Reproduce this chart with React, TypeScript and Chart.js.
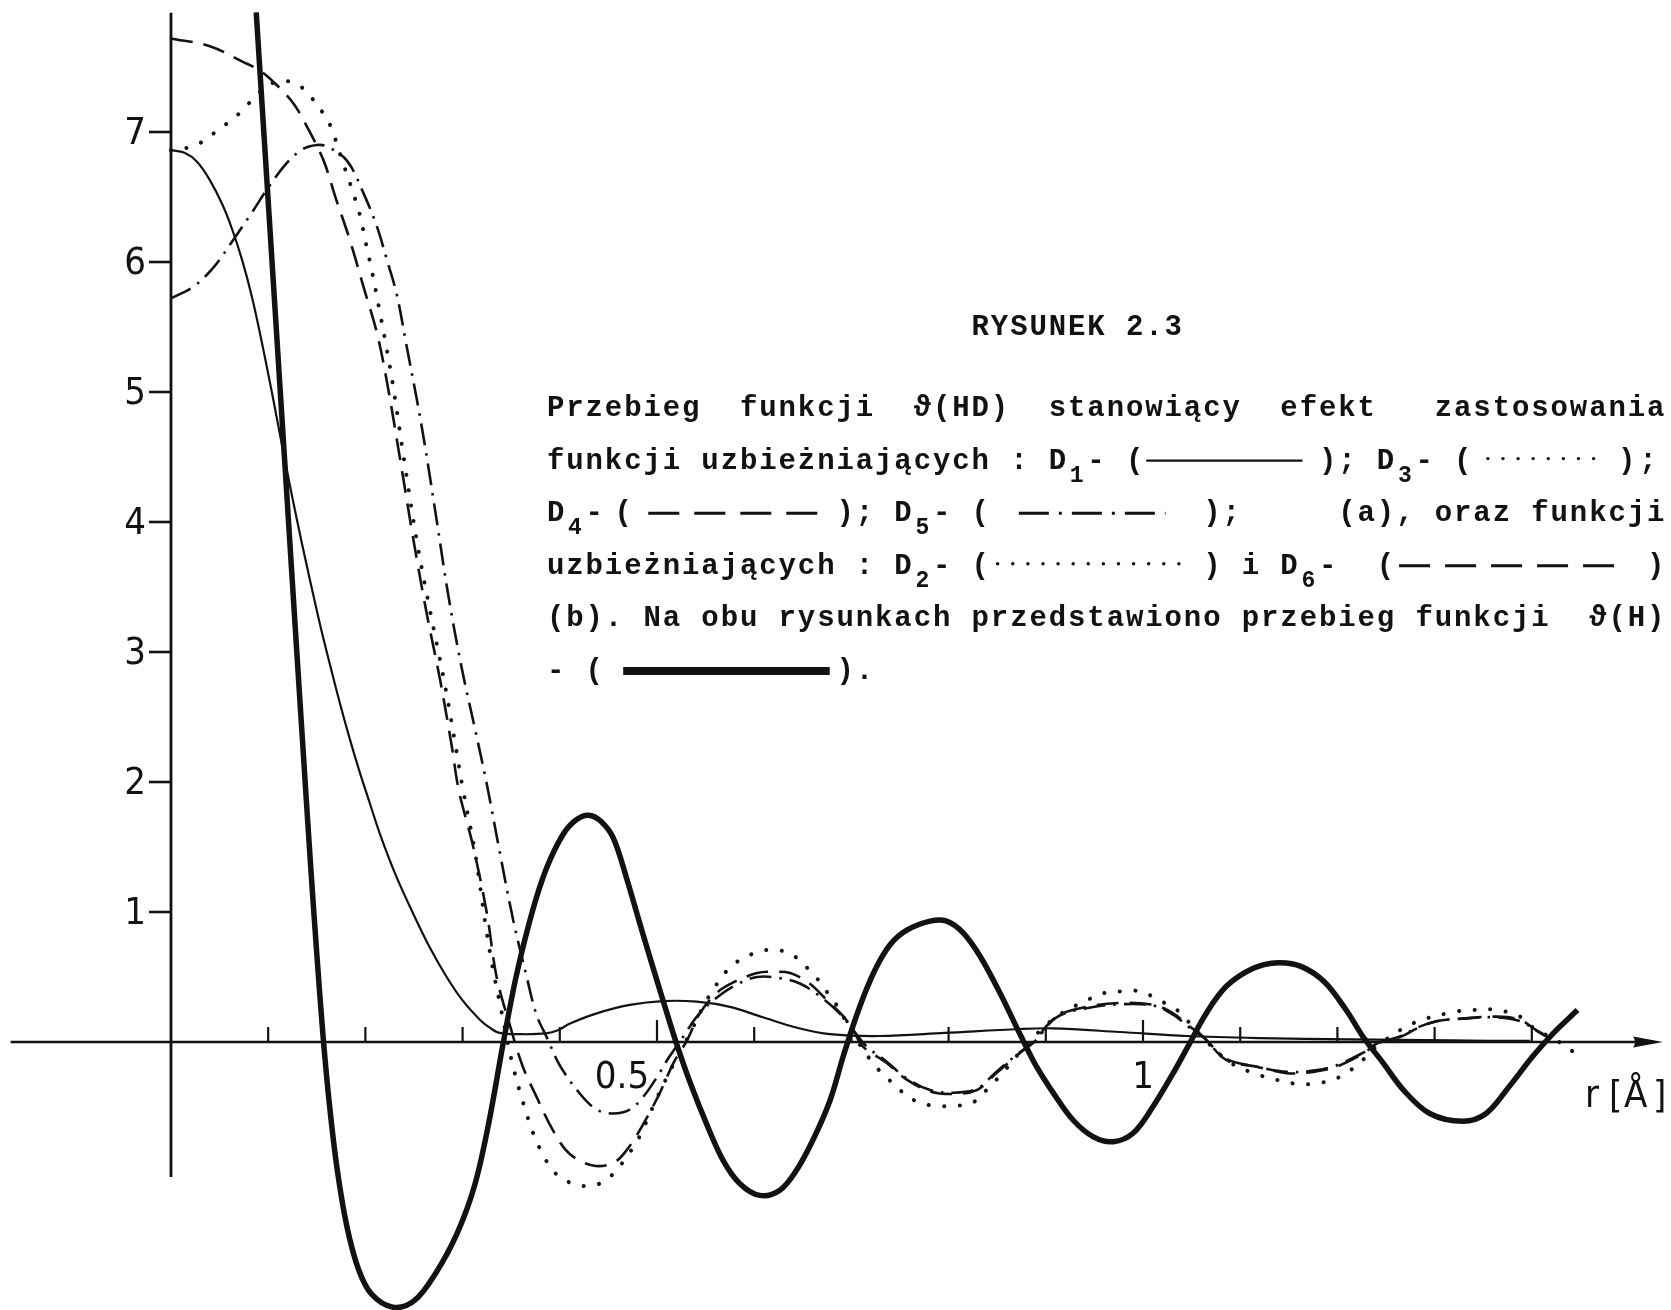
import { useEffect, useRef } from "react";
import { Chart, registerables } from "chart.js";

Chart.register(...registerables);

const W = 1671;
const H = 1310;

// ϑ(H) – thick solid curve
const rH = [0.0877, 0.1, 0.114, 0.128, 0.137, 0.144, 0.15, 0.1564, 0.163, 0.171, 0.181, 0.193, 0.2064, 0.2283, 0.2503, 0.2722, 0.2945, 0.3125, 0.327, 0.342, 0.355, 0.3705, 0.386, 0.4036, 0.417, 0.4295, 0.442, 0.455, 0.4687, 0.482, 0.496, 0.5099, 0.52, 0.534, 0.551, 0.568, 0.5853, 0.6058, 0.6264, 0.6436, 0.6607, 0.678, 0.692, 0.708, 0.724, 0.74, 0.757, 0.781, 0.798, 0.815, 0.8324, 0.853, 0.873, 0.8905, 0.908, 0.928, 0.949, 0.9695, 0.99, 1.01, 1.031, 1.048, 1.065, 1.086, 1.1135, 1.139, 1.163, 1.187, 1.209, 1.2264, 1.247, 1.268, 1.295, 1.329, 1.353, 1.377, 1.401, 1.422, 1.447];
const vH = [7.92, 6.47, 4.82, 3.17, 2.12, 1.32, 0.68, 0.05, -0.48, -0.98, -1.42, -1.75, -1.94, -2.04, -1.99, -1.78, -1.47, -1.1, -0.62, 0.0, 0.5, 0.97, 1.33, 1.6, 1.71, 1.745, 1.7, 1.57, 1.26, 0.92, 0.57, 0.23, -0.01, -0.31, -0.63, -0.91, -1.09, -1.18, -1.14, -0.985, -0.75, -0.45, -0.1, 0.26, 0.55, 0.75, 0.86, 0.93, 0.93, 0.84, 0.66, 0.375, 0.067, -0.19, -0.395, -0.6, -0.73, -0.767, -0.7, -0.5, -0.24, -0.01, 0.22, 0.43, 0.567, 0.61, 0.58, 0.46, 0.246, 0.04, -0.16, -0.37, -0.55, -0.61, -0.55, -0.34, -0.11, 0.067, 0.246];

// D1 – thin solid
const rD1 = [0, 0.014, 0.027, 0.04, 0.053, 0.063, 0.073, 0.083, 0.093, 0.104, 0.114, 0.124, 0.134, 0.144, 0.154, 0.164, 0.174, 0.184, 0.194, 0.204, 0.215, 0.232, 0.249, 0.266, 0.2836, 0.3, 0.318, 0.328, 0.338, 0.36, 0.386, 0.398, 0.41, 0.438, 0.472, 0.506, 0.541, 0.575, 0.609, 0.644, 0.678, 0.729, 0.796, 0.873, 0.907, 0.976, 1.045, 1.12, 1.213, 1.316, 1.398];
const vD1 = [6.86, 6.84, 6.77, 6.63, 6.44, 6.25, 6.02, 5.74, 5.4, 4.99, 4.6, 4.22, 3.86, 3.52, 3.19, 2.89, 2.6, 2.33, 2.08, 1.85, 1.6, 1.27, 0.99, 0.73, 0.5, 0.32, 0.17, 0.11, 0.07, 0.06, 0.066, 0.09, 0.14, 0.22, 0.285, 0.315, 0.31, 0.27, 0.19, 0.11, 0.06, 0.046, 0.07, 0.1, 0.105, 0.077, 0.046, 0.03, 0.02, 0.012, 0.008];

// D3 – dotted
const rD3 = [0, 0.023, 0.037, 0.049, 0.062, 0.074, 0.085, 0.1, 0.112, 0.126, 0.138, 0.157, 0.165, 0.177, 0.184, 0.194, 0.201, 0.207, 0.214, 0.221, 0.228, 0.24, 0.2535, 0.267, 0.281, 0.293, 0.3, 0.313, 0.324, 0.331, 0.338, 0.345, 0.352, 0.362, 0.373, 0.383, 0.393, 0.407, 0.428, 0.445, 0.4585, 0.469, 0.479, 0.4875, 0.5, 0.517, 0.534, 0.551, 0.572, 0.585, 0.599, 0.615, 0.632, 0.645, 0.657, 0.669, 0.678, 0.688, 0.696, 0.705, 0.724, 0.736, 0.75, 0.765, 0.784, 0.805, 0.824, 0.839, 0.86, 0.88, 0.911, 0.942, 0.959, 0.978, 0.997, 1.017, 1.035, 1.045, 1.062, 1.09, 1.118, 1.137, 1.156, 1.178, 1.202, 1.223, 1.24, 1.278, 1.319, 1.34, 1.362, 1.377, 1.388, 1.405, 1.422, 1.435, 1.449];
const vD3 = [6.86, 6.89, 6.95, 7.02, 7.09, 7.17, 7.26, 7.36, 7.39, 7.38, 7.32, 7.14, 7.03, 6.76, 6.61, 6.37, 6.13, 5.92, 5.65, 5.37, 5.07, 4.47, 3.83, 3.3, 2.78, 2.27, 1.96, 1.45, 0.88, 0.57, 0.31, 0.05, -0.19, -0.46, -0.71, -0.87, -0.99, -1.07, -1.11, -1.075, -0.985, -0.88, -0.77, -0.64, -0.43, -0.17, 0.067, 0.32, 0.55, 0.63, 0.68, 0.71, 0.695, 0.64, 0.55, 0.45, 0.35, 0.25, 0.13, 0.02, -0.18, -0.27, -0.37, -0.45, -0.49, -0.49, -0.47, -0.37, -0.2, -0.02, 0.195, 0.32, 0.375, 0.39, 0.39, 0.32, 0.246, 0.17, 0.03, -0.16, -0.25, -0.29, -0.32, -0.32, -0.27, -0.16, -0.036, 0.144, 0.23, 0.246, 0.25, 0.226, 0.195, 0.09, 0.03, -0.036, -0.108];

// D4 – dashed
const rD4 = [0, 0.04, 0.074, 0.092, 0.109, 0.126, 0.14, 0.157, 0.17, 0.184, 0.198, 0.212, 0.2224, 0.236, 0.2495, 0.263, 0.277, 0.289, 0.296, 0.311, 0.325, 0.335, 0.349, 0.362, 0.376, 0.393, 0.41, 0.434, 0.455, 0.469, 0.486, 0.503, 0.517, 0.531, 0.544, 0.561, 0.579, 0.603, 0.62, 0.637, 0.657, 0.675, 0.692, 0.702, 0.712, 0.736, 0.757, 0.781, 0.805, 0.829, 0.849, 0.873, 0.887, 0.911, 0.942, 0.976, 1.011, 1.031, 1.048, 1.062, 1.086, 1.117, 1.148, 1.175, 1.199, 1.227, 1.241, 1.265, 1.282, 1.302, 1.329, 1.364, 1.388, 1.405, 1.419];
const vD4 = [7.72, 7.66, 7.54, 7.47, 7.36, 7.22, 7.04, 6.78, 6.48, 6.17, 5.81, 5.45, 5.07, 4.47, 3.86, 3.3, 2.78, 2.27, 1.94, 1.5, 0.99, 0.5, 0.12, -0.19, -0.42, -0.68, -0.86, -0.95, -0.93, -0.83, -0.63, -0.39, -0.16, 0.015, 0.22, 0.375, 0.46, 0.53, 0.54, 0.53, 0.45, 0.32, 0.195, 0.09, -0.036, -0.16, -0.29, -0.38, -0.4, -0.37, -0.24, -0.087, 0.0, 0.195, 0.27, 0.3, 0.285, 0.22, 0.12, 0.04, -0.14, -0.19, -0.24, -0.23, -0.19, -0.087, -0.01, 0.04, 0.105, 0.16, 0.18, 0.195, 0.17, 0.09, 0.03];

// D5 – dash-dot
const rD5 = [0, 0.023, 0.044, 0.064, 0.085, 0.098, 0.119, 0.136, 0.15, 0.16, 0.181, 0.198, 0.212, 0.222, 0.232, 0.242, 0.253, 0.261, 0.273, 0.285, 0.299, 0.313, 0.325, 0.338, 0.352, 0.366, 0.376, 0.387, 0.4, 0.421, 0.438, 0.455, 0.472, 0.486, 0.5, 0.513, 0.527, 0.541, 0.558, 0.579, 0.603, 0.627, 0.647, 0.668, 0.688, 0.702, 0.716, 0.736, 0.757, 0.781, 0.805, 0.829, 0.849, 0.873, 0.888, 0.911, 0.942, 0.976, 1.011, 1.031, 1.048, 1.063, 1.086, 1.117, 1.148, 1.175, 1.199, 1.227, 1.242, 1.265, 1.282, 1.302, 1.329, 1.364, 1.388, 1.405, 1.419];
const vD5 = [5.72, 5.81, 5.96, 6.17, 6.4, 6.55, 6.76, 6.87, 6.9, 6.89, 6.78, 6.53, 6.27, 6.02, 5.76, 5.37, 4.94, 4.6, 4.03, 3.45, 2.88, 2.4, 1.98, 1.47, 0.94, 0.5, 0.21, 0.03, -0.18, -0.4, -0.52, -0.55, -0.52, -0.42, -0.27, -0.11, 0.04, 0.195, 0.32, 0.43, 0.5, 0.49, 0.45, 0.35, 0.22, 0.09, -0.036, -0.15, -0.28, -0.37, -0.39, -0.36, -0.23, -0.08, 0.0, 0.19, 0.26, 0.29, 0.28, 0.21, 0.11, 0.03, -0.13, -0.19, -0.23, -0.22, -0.18, -0.08, -0.01, 0.045, 0.11, 0.16, 0.18, 0.19, 0.16, 0.085, 0.025];

// Axes
const yTickValues = [1, 2, 3, 4, 5, 6, 7];
const yTickLabels = ["1", "2", "3", "4", "5", "6", "7"];
const xTickValues = [0.1, 0.2, 0.3, 0.4, 0.5, 0.6, 0.7, 0.8, 0.9, 1.0, 1.1, 1.2, 1.3, 1.4];
const xLabelValues = [0.5, 1];
const xLabelTexts = ["0.5", "1"];
const xAxisTitle = "r[Å]";

// Visible window of the value space
const X_MIN = -0.1759;
const X_MAX = 1.5432;
const Y_MIN = -2.0615;
const Y_MAX = 8.0154;
// Extent of the drawn axis lines
const X_AXIS_FROM = -0.165;
const X_AXIS_TO = 1.535;
const Y_AXIS_TOP = 7.918;
const Y_AXIS_BOTTOM = -1.038;

// Caption block (monospaced, placed by column)
const captionTitle = "RYSUNEK 2.3";
const captionLines: [number, string][][] = [
  [[0, "Przebieg"], [10, "funkcji"], [19, "ϑ(HD)"], [26, "stanowiący"], [38, "efekt"], [46, "zastosowania"]],
  [[0, "funkcji uzbieżniających : D"], [28, "-"], [30, "("], [40, ")"], [41, ";"], [43, "D"], [45, "-"], [47, "("], [55.5, ")"], [56.6, ";"]],
  [[0, "D"], [2, "-"], [3.5, "("], [15, ")"], [16, ";"], [18, "D"], [20, "-"], [22, "("], [34, ")"], [35, ";"], [41, "(a), oraz funkcji"]],
  [[0, "uzbieżniających : D"], [20, "-"], [22, "("], [34, ")"], [36, "i"], [38, "D"], [40, "-"], [43, "("], [57, ")"]],
  [[0, "(b). Na obu rysunkach przedstawiono przebieg funkcji  ϑ(H)"]],
  [[0, "-"], [2, "("], [15, ")."]],
];
const captionSubs: [number, number, string][] = [
  [1, 27, "1"], [1, 44, "3"], [2, 1, "4"], [2, 19, "5"], [3, 19, "2"], [3, 39, "6"],
];
// legend samples: line index, from col, to col, style
const captionSamples: [number, number, number, string][] = [
  [1, 31.1, 39.2, "solid"],
  [1, 48.8, 54.4, "dots"],
  [2, 5.3, 14.2, "dash"],
  [2, 24.5, 32.1, "dashdot"],
  [3, 23.4, 32.9, "dots"],
  [3, 44.2, 56.1, "dash"],
  [5, 4, 14.7, "thick"],
];

const INK = "#121212";
const TX = 546;
const PITCH = 19.3;
const TITLE_BASE = 335;
const LINE0_BASE = 416;
const LINE_STEP = 52.6;
const CAP_FONT = 'bold 29px "Liberation Mono", "DejaVu Sans Mono", monospace';
const SUB_FONT = 'bold 23px "Liberation Mono", "DejaVu Sans Mono", monospace';
const AXIS_FONT = '38px "DejaVu Sans Condensed", "Liberation Sans Narrow", "DejaVu Sans", sans-serif';

const pts = (r: number[], v: number[]) => r.map((x, i) => ({ x, y: v[i] }));

function drawCols(ctx: CanvasRenderingContext2D, text: string, col: number, base: number) {
  Array.from(text).forEach((ch, i) => {
    ctx.fillText(ch, TX + (col + i + 0.5) * PITCH, base);
  });
}

const axesPlugin = {
  id: "drawnAxes",
  beforeDatasetsDraw(chart: any) {
    const { ctx, scales } = chart;
    const xs = scales.x;
    const ys = scales.y;
    const ox = xs.getPixelForValue(0);
    const oy = ys.getPixelForValue(0);
    ctx.save();
    ctx.strokeStyle = INK;
    ctx.fillStyle = INK;
    ctx.lineCap = "butt";

    // horizontal axis with arrow
    const tipX = xs.getPixelForValue(X_AXIS_TO);
    ctx.lineWidth = 2.6;
    ctx.beginPath();
    ctx.moveTo(xs.getPixelForValue(X_AXIS_FROM), oy);
    ctx.lineTo(tipX - 20, oy);
    ctx.stroke();
    ctx.beginPath();
    ctx.moveTo(tipX, oy);
    ctx.lineTo(tipX - 30, oy - 5.5);
    ctx.quadraticCurveTo(tipX - 26, oy, tipX - 30, oy + 5.5);
    ctx.closePath();
    ctx.fill();

    // vertical axis
    ctx.lineWidth = 2.8;
    ctx.beginPath();
    ctx.moveTo(ox, ys.getPixelForValue(Y_AXIS_TOP));
    ctx.lineTo(ox, ys.getPixelForValue(Y_AXIS_BOTTOM));
    ctx.stroke();

    // y ticks + labels
    ctx.lineWidth = 2.6;
    ctx.font = AXIS_FONT;
    ctx.textAlign = "right";
    ctx.textBaseline = "middle";
    yTickValues.forEach((v, i) => {
      const py = ys.getPixelForValue(v);
      ctx.beginPath();
      ctx.moveTo(ox - 22, py);
      ctx.lineTo(ox, py);
      ctx.stroke();
      ctx.fillText(yTickLabels[i], ox - 25, py + 2);
    });

    // x ticks (pointing up)
    ctx.lineWidth = 2.2;
    xTickValues.forEach((v) => {
      const px = xs.getPixelForValue(v);
      const major = Math.abs(v - 0.5) < 1e-6 || Math.abs(v - 1) < 1e-6;
      ctx.beginPath();
      ctx.moveTo(px, oy);
      ctx.lineTo(px, oy - (major ? 22 : 15));
      ctx.stroke();
    });

    // x labels
    ctx.textAlign = "center";
    ctx.textBaseline = "top";
    xLabelValues.forEach((v, i) => {
      const shift = v === 0.5 ? -35 : 0;
      ctx.fillText(xLabelTexts[i], xs.getPixelForValue(v) + shift, oy + 17);
    });

    // axis title r[Å], letters spread apart
    ctx.textAlign = "left";
    ctx.textBaseline = "alphabetic";
    const offs = [0, 24, 39, 68];
    Array.from(xAxisTitle).forEach((ch, i) => {
      ctx.fillText(ch, 1585 + offs[i], oy + 65);
    });
    ctx.restore();
  },
};

function strokeSample(ctx: CanvasRenderingContext2D, x1: number, x2: number, y: number, style: string) {
  ctx.save();
  ctx.strokeStyle = INK;
  ctx.lineCap = "butt";
  let dy = 0;
  if (style === "solid") {
    ctx.lineWidth = 2.4;
  } else if (style === "dots") {
    ctx.lineWidth = 3.4;
    ctx.lineCap = "round";
    ctx.setLineDash([0.1, 15]);
    dy = -2;
  } else if (style === "dash") {
    ctx.lineWidth = 3;
    ctx.setLineDash([31, 15]);
  } else if (style === "dashdot") {
    ctx.lineWidth = 3;
    ctx.setLineDash([30, 10, 3, 10]);
  } else if (style === "thick") {
    ctx.lineWidth = 8;
  }
  ctx.beginPath();
  ctx.moveTo(x1, y + dy);
  ctx.lineTo(x2, y + dy);
  ctx.stroke();
  ctx.restore();
}

const captionPlugin = {
  id: "caption",
  afterDraw(chart: any) {
    const ctx: CanvasRenderingContext2D = chart.ctx;
    ctx.save();
    ctx.fillStyle = INK;
    ctx.textAlign = "center";
    ctx.textBaseline = "alphabetic";
    ctx.font = CAP_FONT;
    drawCols(ctx, captionTitle, 22, TITLE_BASE);
    captionLines.forEach((segs, li) => {
      const base = LINE0_BASE + li * LINE_STEP;
      segs.forEach(([col, text]) => drawCols(ctx, text, col, base));
    });
    ctx.font = SUB_FONT;
    captionSubs.forEach(([li, col, text]) => {
      drawCols(ctx, text, col, LINE0_BASE + li * LINE_STEP + 13);
    });
    captionSamples.forEach(([li, c1, c2, style]) => {
      const y = LINE0_BASE + li * LINE_STEP - 8;
      strokeSample(ctx, TX + c1 * PITCH, TX + c2 * PITCH, y, style);
    });
    ctx.restore();
  },
};

export default function App() {
  const ref = useRef<HTMLCanvasElement | null>(null);

  useEffect(() => {
    const canvas = ref.current;
    if (!canvas) return;
    const line = (r: number[], v: number[], extra: any) => ({
      data: pts(r, v),
      borderColor: INK,
      backgroundColor: INK,
      fill: false,
      pointRadius: 0,
      borderJoinStyle: "round",
      tension: 0.35,
      ...extra,
    });
    const chart = new Chart(canvas, {
      type: "line",
      data: {
        datasets: [
          line(rD1, vD1, { label: "D1", borderWidth: 2.2 }),
          line(rD4, vD4, { label: "D4", borderWidth: 2.6, borderDash: [22, 11] }),
          line(rD5, vD5, { label: "D5", borderWidth: 2.6, borderDash: [22, 8, 2.5, 8] }),
          line(rD3, vD3, { label: "D3", borderWidth: 4, borderDash: [0.1, 15.5], borderCapStyle: "round" }),
          line(rH, vH, { label: "ϑ(H)", borderWidth: 5.5 }),
        ],
      } as any,
      options: {
        animation: false,
        responsive: false,
        events: [],
        layout: { padding: 0 },
        plugins: { legend: { display: false }, tooltip: { enabled: false }, title: { display: false } },
        scales: {
          x: { type: "linear", min: X_MIN, max: X_MAX, display: false },
          y: { type: "linear", min: Y_MIN, max: Y_MAX, display: false },
        },
      },
      plugins: [axesPlugin, captionPlugin],
    });
    return () => chart.destroy();
  }, []);

  return (
    <div style={{ position: "fixed", left: 0, top: 0, width: W, height: H, background: "#fff" }}>
      <canvas ref={ref} width={W} height={H} style={{ width: W, height: H, display: "block" }} />
    </div>
  );
}
